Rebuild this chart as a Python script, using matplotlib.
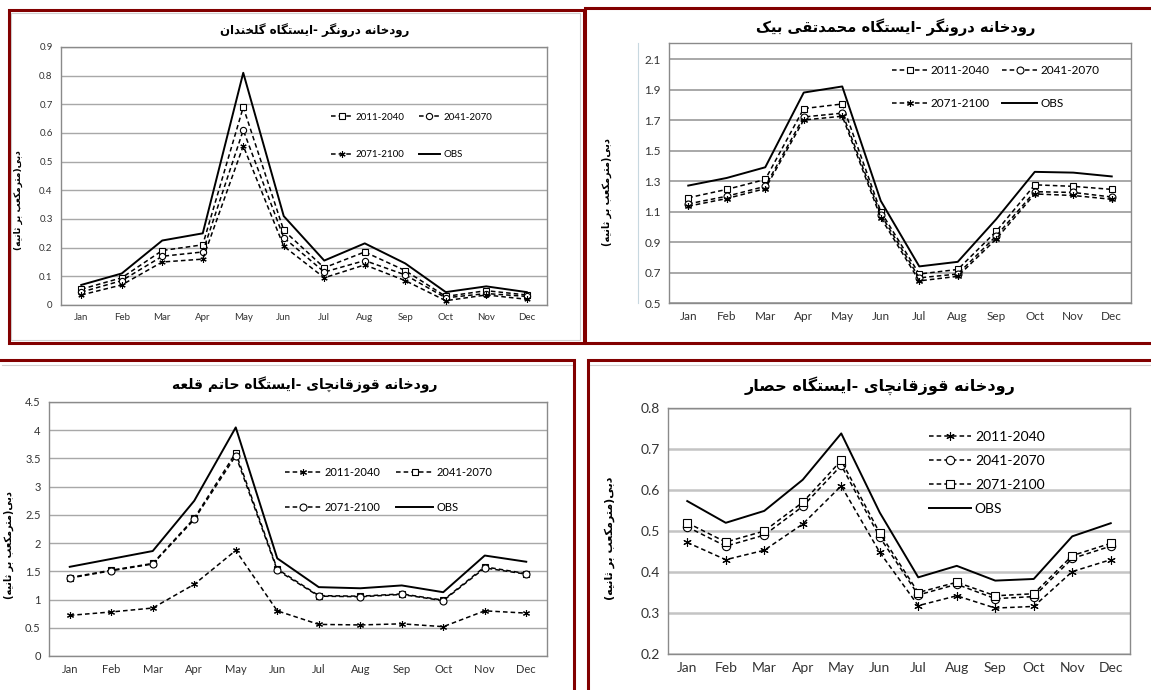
import matplotlib
matplotlib.use("Agg")
import matplotlib.pyplot as plt
from matplotlib.patches import Rectangle
from matplotlib.lines import Line2D
from matplotlib.ticker import FuncFormatter

W, H = 1151, 690

months = ["Jan", "Feb", "Mar", "Apr", "May", "Jun",
          "Jul", "Aug", "Sep", "Oct", "Nov", "Dec"]
periods = ["2011-2040", "2041-2070", "2071-2100"]

# Doroungar river - Golkhandan station
golkhandan_obs = [0.07, 0.11, 0.225, 0.25, 0.81, 0.31, 0.155, 0.215, 0.145, 0.045, 0.065, 0.045]
golkhandan_p1 = [0.055, 0.095, 0.19, 0.21, 0.69, 0.26, 0.13, 0.185, 0.12, 0.03, 0.05, 0.035]
golkhandan_p2 = [0.045, 0.085, 0.17, 0.185, 0.61, 0.235, 0.115, 0.155, 0.105, 0.025, 0.04, 0.03]
golkhandan_p3 = [0.035, 0.07, 0.15, 0.16, 0.555, 0.205, 0.095, 0.14, 0.085, 0.015, 0.035, 0.02]

# Doroungar river - Mohammad Taghi Beyk station
mtbeyk_obs = [1.27, 1.32, 1.39, 1.88, 1.92, 1.17, 0.74, 0.77, 1.05, 1.36, 1.355, 1.33]
mtbeyk_p1 = [1.19, 1.245, 1.31, 1.775, 1.805, 1.10, 0.69, 0.72, 0.97, 1.275, 1.265, 1.245]
mtbeyk_p2 = [1.15, 1.20, 1.265, 1.72, 1.745, 1.08, 0.665, 0.69, 0.94, 1.23, 1.225, 1.195]
mtbeyk_p3 = [1.135, 1.185, 1.25, 1.70, 1.725, 1.06, 0.645, 0.675, 0.92, 1.215, 1.205, 1.18]

# Ghozghanchay river - Hatam Ghaleh station
hatam_obs = [1.58, 1.72, 1.86, 2.75, 4.05, 1.73, 1.22, 1.20, 1.25, 1.13, 1.78, 1.67]
hatam_p1 = [0.72, 0.78, 0.85, 1.27, 1.87, 0.80, 0.56, 0.55, 0.57, 0.52, 0.80, 0.76]
hatam_p2 = [1.39, 1.52, 1.64, 2.44, 3.60, 1.54, 1.07, 1.06, 1.10, 0.99, 1.58, 1.46]
hatam_p3 = [1.38, 1.51, 1.63, 2.42, 3.55, 1.52, 1.06, 1.05, 1.09, 0.98, 1.56, 1.45]

# Ghozghanchay river - Hesar station
hesar_obs = [0.573, 0.52, 0.549, 0.625, 0.738, 0.545, 0.387, 0.415, 0.379, 0.383, 0.487, 0.519]
hesar_p1 = [0.472, 0.43, 0.453, 0.517, 0.61, 0.448, 0.318, 0.342, 0.312, 0.316, 0.401, 0.43]
hesar_p2 = [0.51, 0.463, 0.49, 0.56, 0.66, 0.485, 0.344, 0.37, 0.335, 0.34, 0.433, 0.463]
hesar_p3 = [0.52, 0.473, 0.50, 0.57, 0.672, 0.495, 0.35, 0.375, 0.342, 0.347, 0.44, 0.47]

titles = [
    "رودخانه درونگر -ایستگاه گلخندان",
    "رودخانه درونگر -ایستگاه محمدتقی بیک",
    "رودخانه قوزقانچای -ایستگاه حاتم قلعه",
    "رودخانه قوزقانچای -ایستگاه حصار",
]
ylabel = "دبی(مترمکعب بر ثانیه)"

# contextual forms: isolated, final, initial, medial (None = right-joining only)
FORMS = {
    "ا": ("\uFE8D", "\uFE8E", None, None),
    "ب": ("\uFE8F", "\uFE90", "\uFE91", "\uFE92"),
    "ت": ("\uFE95", "\uFE96", "\uFE97", "\uFE98"),
    "ث": ("\uFE99", "\uFE9A", "\uFE9B", "\uFE9C"),
    "ج": ("\uFE9D", "\uFE9E", "\uFE9F", "\uFEA0"),
    "چ": ("\uFB7A", "\uFB7B", "\uFB7C", "\uFB7D"),
    "ح": ("\uFEA1", "\uFEA2", "\uFEA3", "\uFEA4"),
    "خ": ("\uFEA5", "\uFEA6", "\uFEA7", "\uFEA8"),
    "د": ("\uFEA9", "\uFEAA", None, None),
    "ر": ("\uFEAD", "\uFEAE", None, None),
    "ز": ("\uFEAF", "\uFEB0", None, None),
    "س": ("\uFEB1", "\uFEB2", "\uFEB3", "\uFEB4"),
    "ص": ("\uFEB9", "\uFEBA", "\uFEBB", "\uFEBC"),
    "ع": ("\uFEC9", "\uFECA", "\uFECB", "\uFECC"),
    "ق": ("\uFED5", "\uFED6", "\uFED7", "\uFED8"),
    "ک": ("\uFB8E", "\uFB8F", "\uFB90", "\uFB91"),
    "گ": ("\uFB92", "\uFB93", "\uFB94", "\uFB95"),
    "ل": ("\uFEDD", "\uFEDE", "\uFEDF", "\uFEE0"),
    "م": ("\uFEE1", "\uFEE2", "\uFEE3", "\uFEE4"),
    "ن": ("\uFEE5", "\uFEE6", "\uFEE7", "\uFEE8"),
    "ه": ("\uFEE9", "\uFEEA", "\uFEEB", "\uFEEC"),
    "و": ("\uFEED", "\uFEEE", None, None),
    "ی": ("\uFBFC", "\uFBFD", "\uFBFE", "\uFBFF"),
}


def farsi(text):
    # shape letters and put them in visual (left-to-right) order
    out = []
    for i, ch in enumerate(text):
        if ch not in FORMS:
            out.append(ch)
            continue
        iso, fin, ini, med = FORMS[ch]
        prev = text[i - 1] if i > 0 else ""
        nxt = text[i + 1] if i + 1 < len(text) else ""
        jp = prev in FORMS and FORMS[prev][2] is not None
        jn = ini is not None and nxt in FORMS
        if jp and jn:
            out.append(med)
        elif jp:
            out.append(fin)
        elif jn:
            out.append(ini)
        else:
            out.append(iso)
    return "".join(out)[::-1].translate(str.maketrans("()", ")("))


LATIN = ["Lato", "DejaVu Sans"]
ARABIC = ["DejaVu Sans"]
RED = "#820000"

fig = plt.figure(figsize=(W / 100, H / 100), dpi=100)


def fx(x):
    return x / W


def fy(y):
    return 1 - y / H


def frame(l, t, r, b, color, lw):
    fig.patches.append(Rectangle((fx(l), fy(b)), fx(r - l), (b - t) / H,
                                 transform=fig.transFigure, fill=False,
                                 edgecolor=color, linewidth=lw, zorder=5))


def panel(plot_box, title, title_xy, title_size, ylim, yticks, series, obs,
          fs, grid_color, grid_lw, leg_xy, leg_ncol, leg_spacing, leg_col,
          leg_hl, ylabel_xy, ylabel_size, ms):
    l, t, r, b = plot_box
    ax = fig.add_axes([fx(l), fy(b), fx(r - l), (b - t) / H])
    x = list(range(len(months)))
    handles = []
    for label, values, marker in series:
        h, = ax.plot(x, values, color="black", lw=1.1, dashes=(3, 2),
                     marker=marker, ms=ms, mfc="white", mec="black", mew=0.8,
                     label=label, zorder=3)
        handles.append(h)
    h, = ax.plot(x, obs, color="black", lw=1.4, label="OBS", zorder=4)
    handles.append(h)

    ax.set_xlim(-0.5, 11.5)
    ax.set_ylim(*ylim)
    ax.set_yticks(yticks)
    ax.yaxis.set_major_formatter(FuncFormatter(lambda v, p: f"{v:g}"))
    ax.set_xticks(x)
    ax.set_xticklabels(months)
    ax.tick_params(length=0, labelsize=fs, labelcolor="#333333", pad=6)
    for lab in ax.get_xticklabels() + ax.get_yticklabels():
        lab.set_family(LATIN)
    ax.grid(axis="y", color=grid_color, lw=grid_lw)
    ax.set_axisbelow(True)
    for s in ax.spines.values():
        s.set_color("#8a8a8a")
        s.set_linewidth(1.0)

    fig.text(fx(title_xy[0]), fy(title_xy[1]), farsi(title), ha="center",
             va="center", fontsize=title_size, fontweight="bold", family=ARABIC)
    # label position is given as its centre line; the axis anchors the right edge
    half = ylabel_size * 0.7
    ax.set_ylabel(farsi(ylabel), fontsize=ylabel_size, fontweight="bold",
                  family=ARABIC)
    ax.yaxis.set_label_coords(fx(ylabel_xy[0] + half), fy(ylabel_xy[1]),
                              transform=fig.transFigure)

    if leg_ncol == 2:
        order = [handles[0], handles[2], handles[1], handles[3]]
    else:
        order = handles
    ax.legend(handles=order, loc="center left",
              bbox_to_anchor=(fx(leg_xy[0]), fy(leg_xy[1])),
              bbox_transform=fig.transFigure, ncol=leg_ncol, frameon=False,
              borderpad=0, borderaxespad=0, handlelength=leg_hl,
              handletextpad=0.3, labelspacing=leg_spacing,
              columnspacing=leg_col, numpoints=1,
              prop={"family": LATIN, "size": fs})
    return ax


# top left
panel((61, 47, 547, 305), titles[0], (315, 31), 8.5, (0, 0.9),
      [i / 10 for i in range(10)],
      [(periods[0], golkhandan_p1, "s"), (periods[1], golkhandan_p2, "o"),
       (periods[2], golkhandan_p3, (6, 2, 0))], golkhandan_obs,
      7, "#a8a8a8", 1.0, (331, 136), 2, 2.9, 1.5, 2.2, (18, 200), 6.5, 4.5)

# top right
panel((669, 43, 1131, 303), titles[1], (896, 27), 10.5, (0.5, 2.205),
      [0.5 + 0.2 * i for i in range(9)],
      [(periods[0], mtbeyk_p1, "s"), (periods[1], mtbeyk_p2, "o"),
       (periods[2], mtbeyk_p3, (6, 2, 0))], mtbeyk_obs,
      8.5, "#a8a8a8", 1.4, (892, 87), 2, 1.9, 1.0, 3.0, (607, 192), 7, 5)

# bottom left
panel((49, 402, 547, 656), titles[2], (305, 385), 10, (0, 4.5),
      [0.5 * i for i in range(10)],
      [(periods[0], hatam_p1, (6, 2, 0)), (periods[1], hatam_p2, "s"),
       (periods[2], hatam_p3, "o")], hatam_obs,
      8, "#a8a8a8", 1.0, (285, 490), 2, 2.2, 1.4, 3.3, (9, 545), 7, 5)

# bottom right
panel((668, 408, 1130, 654), titles[3], (880, 386), 11.5, (0.2, 0.8),
      [0.2 + 0.1 * i for i in range(7)],
      [(periods[0], hesar_p1, (6, 2, 0)), (periods[1], hesar_p2, "o"),
       (periods[2], hesar_p3, "s")], hesar_obs,
      10, "#c4c4c4", 1.8, (929, 473), 1, 0.85, 1.0, 3.0, (609, 538), 8, 6)

# inner chart-area outlines and extra axis line
frame(11, 13, 580, 340, "#d0d0d0", 0.8)
fig.add_artist(Line2D([fx(638), fx(638)], [fy(43), fy(303)],
                      transform=fig.transFigure, color="#c8d8e0", lw=0.8))
fig.add_artist(Line2D([fx(2), fx(572)], [fy(365), fy(365)],
                      transform=fig.transFigure, color="#d0d0d0", lw=0.8))
fig.add_artist(Line2D([fx(590), fx(1151)], [fy(365), fy(365)],
                      transform=fig.transFigure, color="#d0d0d0", lw=0.8))

# dark red panel borders
frame(9, 10, 584, 343, RED, 2.2)
frame(585, 8, 1160, 343, RED, 2.2)
frame(-10, 360, 574, 700, RED, 2.2)
frame(588, 360, 1160, 700, RED, 2.2)

fig.savefig("out.png", dpi=100)
